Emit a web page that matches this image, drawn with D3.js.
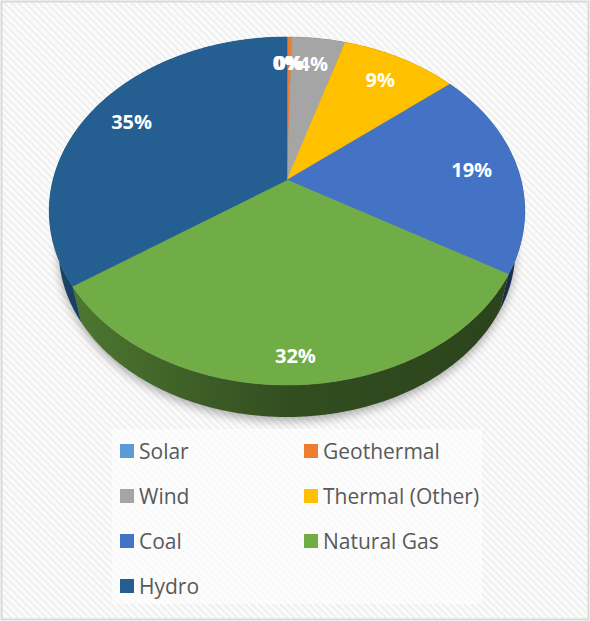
<!DOCTYPE html>
<html>
<head>
<meta charset="utf-8">
<script src="https://cdn.jsdelivr.net/npm/d3@7"></script>
<style>
  body { margin: 0; background: #fff; }
  svg { display: block; }
</style>
</head>
<body>
<div id="chart"></div>
<script>
// data
let categories = ["Solar", "Geothermal", "Wind", "Thermal (Other)", "Coal", "Natural Gas", "Hydro"];
let values = [0.05, 0.35, 4.3, 9.4, 19.4, 31.9, 34.6];
let colors = ["#5B9BD5", "#ED7D31", "#A5A5A5", "#FFC000", "#4472C4", "#70AD47", "#255E91"];

let W = 590, H = 621;

let svg = d3.select("#chart")
  .append("svg")
  .attr("width", W)
  .attr("height", H);

let defs = svg.append("defs");

// striped background
let pat = defs.append("pattern")
  .attr("id", "stripes")
  .attr("patternUnits", "userSpaceOnUse")
  .attr("width", 5)
  .attr("height", 5)
  .attr("patternTransform", "rotate(-45)");
pat.append("rect").attr("width", 5).attr("height", 5).attr("fill", "#fbfbfb");
pat.append("rect").attr("width", 2).attr("height", 5).attr("fill", "#efefef");

svg.append("rect")
  .attr("x", 1.5).attr("y", 1.5)
  .attr("width", W - 3).attr("height", H - 3)
  .attr("fill", "url(#stripes)")
  .attr("stroke", "#d9d9d9")
  .attr("stroke-width", 2);

// perspective projection of the pie disc
let cx = 287, cy = 180, a = 234, b = 168.5, k = 0.178;
let botScale = 0.96, botFront = 417;   // lower face is a bit smaller (further away)
function proj(theta, f) {
  let u = f * Math.sin(theta), v = -f * Math.cos(theta);
  let w = 1 - k * v;
  return [cx + a * u / w, cy + b * v / w];
}
let frontY = proj(Math.PI, 1)[1];
let cyBot = botFront - (frontY - cy) * botScale;
function projBot(theta) {
  let p = proj(theta, 1);
  return [cx + (p[0] - cx) * botScale, cyBot + (p[1] - cy) * botScale];
}

function arcPts(a0, a1, fn) {
  let n = Math.max(2, Math.ceil((a1 - a0) / 0.01));
  let pts = [];
  for (let i = 0; i <= n; i++) pts.push(fn(a0 + (a1 - a0) * i / n));
  return pts;
}
let topEdge = t => proj(t, 1);

let pie = d3.pie().sort(null).value(d => d.value);
let data = categories.map((c, i) => ({name: c, value: values[i], color: colors[i]}));
let arcs = pie(data);
let total = d3.sum(values);

let line = d3.line();

// shadow under the pie
let shadow = defs.append("filter").attr("id", "blur")
  .attr("x", "-20%").attr("y", "-20%").attr("width", "140%").attr("height", "140%");
shadow.append("feGaussianBlur").attr("stdDeviation", 5);

svg.append("path")
  .attr("d", line(arcPts(0, 2 * Math.PI, t => { let p = projBot(t); return [p[0], p[1] + 4]; })) + "Z")
  .attr("fill", "#000")
  .attr("opacity", 0.3)
  .attr("filter", "url(#blur)");

// side walls
let gSide = svg.append("g");
arcs.forEach((d, i) => {
  let c = d3.color(d.data.color);
  let grad = defs.append("linearGradient")
    .attr("id", "side" + i)
    .attr("gradientUnits", "userSpaceOnUse")
    .attr("x1", cx - 240).attr("x2", cx + 240)
    .attr("y1", 0).attr("y2", 0);
  [[0, 0.72], [0.3, 0.55], [0.5, 0.45], [1, 0.38]].forEach(st => {
    grad.append("stop")
      .attr("offset", st[0])
      .attr("stop-color", d3.rgb(c.r * st[1], c.g * st[1], c.b * st[1]).formatHex());
  });
  let top = arcPts(d.startAngle, d.endAngle, topEdge);
  let bot = arcPts(d.startAngle, d.endAngle, projBot).reverse();
  gSide.append("path")
    .attr("d", line(top.concat(bot)) + "Z")
    .attr("fill", "url(#side" + i + ")");
});

// top faces
svg.append("g")
  .selectAll("path")
  .data(arcs)
  .enter()
  .append("path")
  .attr("d", d => line([[cx, cy]].concat(arcPts(d.startAngle, d.endAngle, topEdge))) + "Z")
  .attr("fill", d => d.data.color)
  .attr("stroke", d => d.data.color)
  .attr("stroke-width", 0.5);

// data labels
function labelPos(d) {
  let mid = (d.startAngle + d.endAngle) / 2;
  let f = 0.8 + 0.08 * Math.max(0, -Math.cos(mid));
  return proj(mid, f);
}
svg.append("g")
  .selectAll("text")
  .data(arcs)
  .enter()
  .append("text")
  .attr("x", d => labelPos(d)[0])
  .attr("y", d => labelPos(d)[1])
  .attr("text-anchor", "middle")
  .attr("dominant-baseline", "central")
  .attr("font-family", "'Open Sans', sans-serif")
  .attr("font-weight", "bold")
  .attr("font-size", 20)
  .attr("fill", "#fff")
  .text(d => Math.round(d.data.value / total * 100) + "%");

// legend
svg.append("rect")
  .attr("x", 112).attr("y", 429)
  .attr("width", 370).attr("height", 175)
  .attr("fill", "#fff")
  .attr("opacity", 0.6);

let legend = svg.append("g")
  .selectAll("g")
  .data(data)
  .enter()
  .append("g")
  .attr("transform", (d, i) => "translate(" + (i % 2 ? 304 : 120) + "," + (444 + Math.floor(i / 2) * 45) + ")");

legend.append("rect")
  .attr("width", 14).attr("height", 14)
  .attr("fill", d => d.color);

legend.append("text")
  .attr("x", 19)
  .attr("y", 7)
  .attr("dominant-baseline", "central")
  .attr("font-family", "'Open Sans', sans-serif")
  .attr("font-size", 21)
  .attr("fill", "#595959")
  .text(d => d.name);
</script>
</body>
</html>
